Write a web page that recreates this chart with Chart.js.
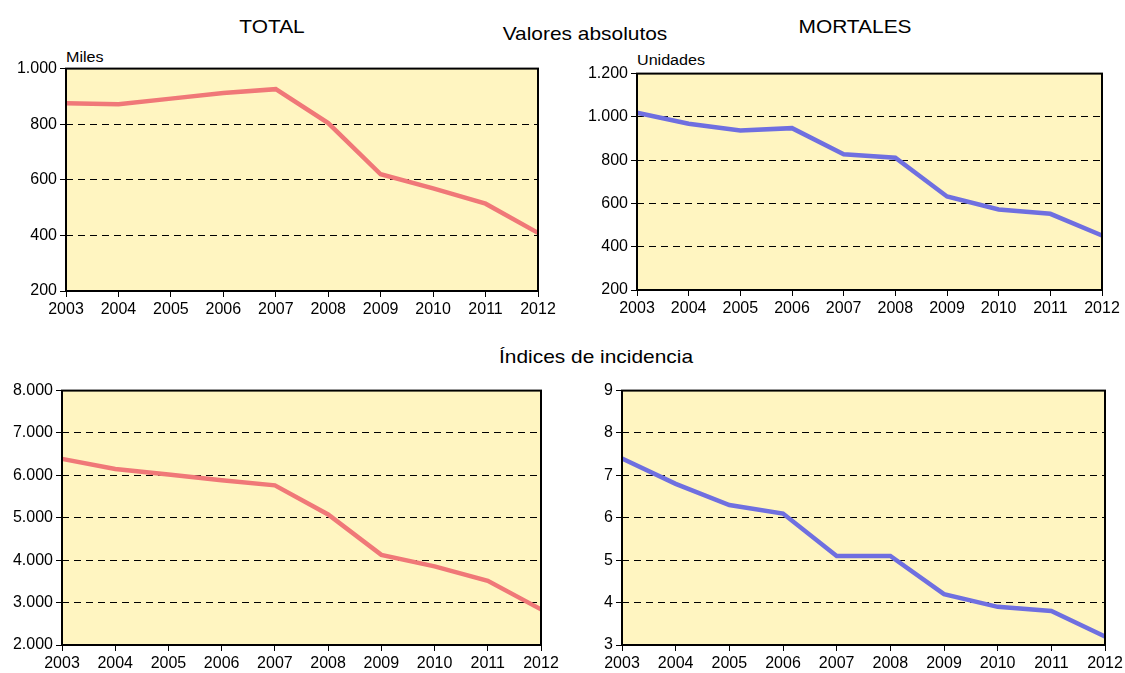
<!DOCTYPE html>
<html>
<head>
<meta charset="utf-8">
<script src="https://cdn.jsdelivr.net/npm/chart.js@4/dist/chart.umd.min.js"></script>
<style>
  body { margin: 0; background: #fff; font-family: "Liberation Sans", Arial, sans-serif; }
  #page { position: relative; width: 1125px; height: 673px; overflow: hidden; }
  .box { position: absolute; }
  .txt { position: absolute; color: #000; white-space: nowrap; font-size: 19px; transform: translate(-50%, -50%) scaleX(1.1); }
  .unit { position: absolute; color: #000; font-size: 14px; white-space: nowrap; transform-origin: left center; transform: translateY(-50%) scaleX(1.15); }
</style>
</head>
<body>
<div id="page">
  <div class="txt" style="left:272px; top:27px;">TOTAL</div>
  <div class="txt" style="left:855px; top:27px;">MORTALES</div>
  <div class="txt" style="left:585px; top:34px;">Valores absolutos</div>
  <div class="txt" style="left:596px; top:357px;">Índices de incidencia</div>
  <div class="unit" style="left:66px; top:57px;">Miles</div>
  <div class="unit" style="left:637px; top:60px;">Unidades</div>
</div>
<script>
const years = ['2003', '2004', '2005', '2006', '2007', '2008', '2009', '2010', '2011', '2012'];

// Valores absolutos
const totalMiles = [875, 872, 892, 912, 926, 804, 620, 569, 514, 409];
const mortalesUnidades = [1019, 968, 937, 948, 827, 811, 632, 572, 552, 452];

// Índices de incidencia
const totalIndice = [6390, 6150, 6020, 5885, 5765, 5080, 4125, 3855, 3515, 2840];
const mortalesIndice = [7.4, 6.8, 6.3, 6.1, 5.1, 5.1, 4.2, 3.9, 3.8, 3.2];

const pink = '#F07878';
const blue = '#6F6FE0';
const plotBg = '#FFF5C1';

// y axis ranges: [min, max, step]
const rangeTL = [200, 1000, 200];
const rangeTR = [200, 1200, 200];
const rangeBL = [2000, 8000, 1000];
const rangeBR = [3, 9, 1];

const fmt = v => String(v).replace(/\B(?=(\d{3})+(?!\d))/g, '.');

const frame = {
  id: 'frame',
  beforeDraw(chart) {
    const a = chart.chartArea, ctx = chart.ctx;
    ctx.save();
    ctx.fillStyle = plotBg;
    ctx.fillRect(a.left, a.top, a.right - a.left, a.bottom - a.top);
    ctx.restore();
  },
  afterDraw(chart) {
    const a = chart.chartArea, ctx = chart.ctx;
    ctx.save();
    ctx.strokeStyle = '#000';
    ctx.lineWidth = 2;
    ctx.strokeRect(a.left, a.top, a.right - a.left, a.bottom - a.top);
    ctx.restore();
  }
};

const YW = 66, XH = 32, PT = 12, PR = 26;

function makeChart(area, data, color, range) {
  const [left, top, right, bottom] = area;
  const page = document.getElementById('page');
  const div = document.createElement('div');
  div.className = 'box';
  const w = right - left + YW + PR, h = bottom - top + PT + XH;
  div.style.left = (left - YW) + 'px';
  div.style.top = (top - PT) + 'px';
  div.style.width = w + 'px';
  div.style.height = h + 'px';
  const cv = document.createElement('canvas');
  div.appendChild(cv);
  page.appendChild(div);

  new Chart(cv, {
    type: 'line',
    data: {
      labels: years,
      datasets: [{
        data: data,
        borderColor: color,
        borderWidth: 4.5,
        pointRadius: 0,
        tension: 0,
        fill: false
      }]
    },
    options: {
      responsive: true,
      maintainAspectRatio: false,
      animation: false,
      layout: { autoPadding: false, padding: { left: 0, top: PT, right: PR, bottom: 0 } },
      plugins: { legend: { display: false }, tooltip: { enabled: false } },
      scales: {
        x: {
          offset: false,
          afterFit: s => { s.height = XH; },
          grid: { drawOnChartArea: false, drawTicks: true, tickLength: 6, tickColor: '#000', tickWidth: 1 },
          border: { display: false },
          ticks: { color: '#000', font: { family: 'Liberation Sans', size: 16 }, padding: 3, maxRotation: 0, autoSkip: false }
        },
        y: {
          min: range[0],
          max: range[1],
          afterFit: s => { s.width = YW; },
          grid: { color: '#000', lineWidth: 1, tickLength: 6, tickColor: '#000', tickWidth: 1, tickBorderDash: [] },
          border: { display: false, dash: [7, 5] },
          ticks: { stepSize: range[2], color: '#000', font: { family: 'Liberation Sans', size: 16 }, padding: 3, callback: v => fmt(v) }
        }
      }
    },
    plugins: [frame]
  });
}

makeChart([66, 68, 538, 291], totalMiles, pink, rangeTL);
makeChart([637, 73, 1102, 290], mortalesUnidades, blue, rangeTR);
makeChart([62, 390, 541, 645], totalIndice, pink, rangeBL);
makeChart([622, 390, 1105, 645], mortalesIndice, blue, rangeBR);
</script>
</body>
</html>
